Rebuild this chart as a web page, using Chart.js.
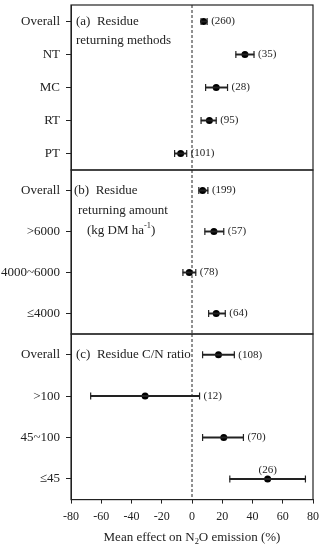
<!DOCTYPE html>
<html>
<head>
<meta charset="utf-8">
<script src="https://cdn.jsdelivr.net/npm/chart.js@4/dist/chart.umd.min.js"></script>
<style>
body { margin: 0; background: #fff; }
#wrap { position: relative; width: 324px; height: 550px; }
canvas { position: absolute; left: 0; }
</style>
</head>
<body>
<div id="wrap">
<canvas id="panel_a" width="324" height="167" style="top:4px"></canvas>
<canvas id="panel_b" width="324" height="166" style="top:169px"></canvas>
<canvas id="panel_c" width="324" height="217" style="top:333px"></canvas>
</div>
<script>
var FONT = "'Liberation Serif', 'DejaVu Serif', serif";
var INK = '#222';

// x axis
var xMin = -80, xMax = 80, xStep = 20;

// (a) residue returning methods
var methodCats = ['Overall', 'NT', 'MC', 'RT', 'PT'];
var methodMean = [7.7, 35, 16, 11.5, -7.5];
var methodLow = [6, 29, 9, 6, -11.5];
var methodHigh = [10, 41, 23.5, 16, -3.5];
var methodN = ['(260)', '(35)', '(28)', '(95)', '(101)'];

// (b) residue returning amount
var amountCats = ['Overall', '>6000', '4000~6000', '\u22644000'];
var amountMean = [7, 14.5, -1.8, 16];
var amountLow = [4.5, 8.5, -6, 11];
var amountHigh = [10.5, 21, 2.5, 22];
var amountN = ['(199)', '(57)', '(78)', '(64)'];

// (c) residue C/N ratio
var ratioCats = ['Overall', '>100', '45~100', '\u226445'];
var ratioMean = [17.5, -31, 21, 50];
var ratioLow = [7, -67, 7, 25];
var ratioHigh = [28, 5, 34, 75];
var ratioN = ['(108)', '(12)', '(70)', '(26)'];

// draw text made of segments, some raised or lowered
function drawRich(ctx, segs, x, y, size, align) {
    var total = 0;
    segs.forEach(function (s) {
        ctx.font = (s.sup || s.sub ? size * 0.65 : size) + 'px ' + FONT;
        s.w = ctx.measureText(s.t).width;
        total += s.w;
    });
    var cx = align === 'center' ? x - total / 2 : x;
    segs.forEach(function (s) {
        ctx.font = (s.sup || s.sub ? size * 0.65 : size) + 'px ' + FONT;
        var dy = s.sup ? -size * 0.35 : (s.sub ? size * 0.3 : 0);
        ctx.fillText(s.t, cx, y + dy);
        cx += s.w;
    });
}

function makePanel(id, cats, mean, low, high, counts, title, opts) {
    var bars = cats.map(function (c, i) { return [low[i], high[i]]; });
    var caps = [];
    cats.forEach(function (c, i) {
        caps.push({ x: low[i], y: c });
        caps.push({ x: high[i], y: c });
    });
    var dots = cats.map(function (c, i) { return { x: mean[i], y: c }; });

    var panelPlugin = {
        id: 'panel_' + id,
        beforeDatasetsDraw: function (chart) {
            var c = chart.ctx, a = chart.chartArea;
            var x0 = chart.scales.x.getPixelForValue(0);
            c.save();
            c.strokeStyle = INK;
            c.lineWidth = 1;
            c.setLineDash([3, 2]);
            c.beginPath();
            c.moveTo(x0, a.top);
            c.lineTo(x0, a.bottom);
            c.stroke();
            c.restore();
        },
        afterDatasetsDraw: function (chart) {
            var c = chart.ctx, a = chart.chartArea;
            var xs = chart.scales.x, ys = chart.scales.y;
            c.save();
            c.strokeStyle = INK;
            c.lineWidth = 1.2;
            c.strokeRect(a.left, a.top, a.right - a.left, a.bottom - a.top);

            // sample counts
            c.fillStyle = INK;
            c.font = '11px ' + FONT;
            c.textBaseline = 'middle';
            counts.forEach(function (n, i) {
                var y = ys.getPixelForValue(i);
                if (opts.above && opts.above.indexOf(i) >= 0) {
                    c.textAlign = 'center';
                    c.fillText(n, xs.getPixelForValue(mean[i]), y - 9);
                } else {
                    c.textAlign = 'left';
                    c.fillText(n, xs.getPixelForValue(high[i]) + 4, y);
                }
            });

            // panel title
            c.textAlign = 'left';
            var y0 = ys.getPixelForValue(0);
            title.forEach(function (line) {
                drawRich(c, line.segs, a.left + line.dx, y0 + line.dy, 13, 'left');
            });

            if (opts.axisTitle) {
                drawRich(c, opts.axisTitle, (a.left + a.right) / 2, a.bottom + 38, 13, 'center');
            }
            c.restore();
        }
    };

    return new Chart(document.getElementById(id).getContext('2d'), {
        type: 'bar',
        data: {
            labels: cats,
            datasets: [{
                data: bars,
                backgroundColor: INK,
                borderWidth: 0,
                barThickness: 1.3
            }, {
                type: 'line',
                data: caps,
                showLine: false,
                indexAxis: 'y',
                pointStyle: 'line',
                rotation: 90,
                pointRadius: 3.5,
                borderColor: INK,
                borderWidth: 1.2
            }, {
                type: 'line',
                data: dots,
                showLine: false,
                indexAxis: 'y',
                pointRadius: 3.5,
                pointBackgroundColor: '#000',
                pointBorderWidth: 0
            }]
        },
        options: {
            indexAxis: 'y',
            responsive: false,
            animation: false,
            events: [],
            layout: { autoPadding: false, padding: { top: 1, bottom: opts.axisTitle ? 20 : 1, left: 0, right: 11 } },
            plugins: { legend: { display: false }, tooltip: { enabled: false } },
            scales: {
                x: {
                    type: 'linear',
                    display: !!opts.axisTitle,
                    min: xMin,
                    max: xMax,
                    ticks: {
                        stepSize: xStep, color: INK, font: { family: FONT, size: 12 }, padding: 6,
                        maxRotation: 0, minRotation: 0, autoSkip: false
                    },
                    grid: { drawOnChartArea: false, tickLength: 4, color: INK },
                    border: { display: true, color: INK },
                    afterFit: function (scale) {
                        scale.paddingLeft = 0;
                        scale.paddingRight = 0;
                    }
                },
                y: {
                    type: 'category',
                    offset: true,
                    ticks: { color: INK, font: { family: FONT, size: 13 }, padding: 6 },
                    grid: { offset: false, drawOnChartArea: false, tickLength: 5, color: INK },
                    border: { display: true, color: INK },
                    afterFit: function (scale) {
                        scale.width = 71;
                        scale.paddingTop = 0;
                        scale.paddingBottom = 0;
                    }
                }
            }
        },
        plugins: [panelPlugin]
    });
}

makePanel('panel_a', methodCats, methodMean, methodLow, methodHigh, methodN, [
    { dx: 5, dy: 0, segs: [{ t: '(a)  Residue' }] },
    { dx: 5, dy: 19, segs: [{ t: 'returning methods' }] }
], {});

makePanel('panel_b', amountCats, amountMean, amountLow, amountHigh, amountN, [
    { dx: 3, dy: 0, segs: [{ t: '(b)  Residue' }] },
    { dx: 7, dy: 20, segs: [{ t: 'returning amount' }] },
    { dx: 16, dy: 40, segs: [{ t: '(kg DM ha' }, { t: '-1', sup: true }, { t: ')' }] }
], {});

makePanel('panel_c', ratioCats, ratioMean, ratioLow, ratioHigh, ratioN, [
    { dx: 5, dy: 0, segs: [{ t: '(c)  Residue C/N ratio' }] }
], {
    above: [3],
    axisTitle: [{ t: 'Mean effect on N' }, { t: '2', sub: true }, { t: 'O emission (%)' }]
});
</script>
</body>
</html>
